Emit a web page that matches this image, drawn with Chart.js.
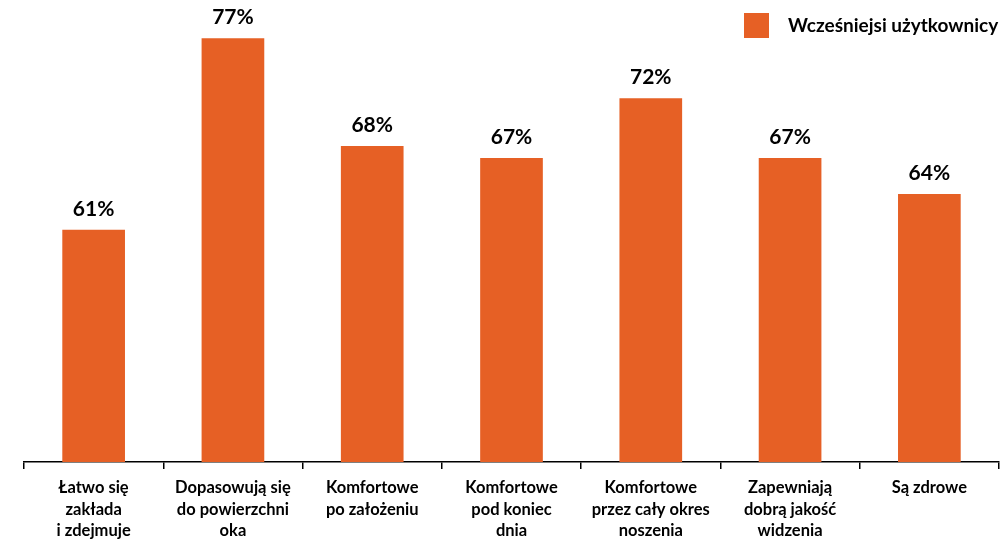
<!DOCTYPE html>
<html>
<head>
<meta charset="utf-8">
<script src="https://cdn.jsdelivr.net/npm/chart.js@4"></script>
<style>
  html, body { margin: 0; padding: 0; background: #fff; }
  #wrap { width: 1003px; height: 540px; }
</style>
</head>
<body>
<div id="wrap"><canvas id="bars"></canvas></div>
<script>
var categories = [
  ['Łatwo się', 'zakłada', 'i zdejmuje'],
  ['Dopasowują się', 'do powierzchni', 'oka'],
  ['Komfortowe', 'po założeniu'],
  ['Komfortowe', 'pod koniec', 'dnia'],
  ['Komfortowe', 'przez cały okres', 'noszenia'],
  ['Zapewniają', 'dobrą jakość', 'widzenia'],
  ['Są zdrowe']
];
var seriesName = 'Wcześniejsi użytkownicy';
var values = [61, 77, 68, 67, 72, 67, 64];

var orange = '#E66025';
var font = 'Lato, "Open Sans", sans-serif';

// value labels above each bar + legend box in the top right corner
var extras = {
  id: 'extras',
  afterDatasetsDraw: function(chart) {
    var ctx = chart.ctx;
    var meta = chart.getDatasetMeta(0);
    ctx.save();
    ctx.fillStyle = '#000';
    ctx.font = 'bold 21px ' + font;
    ctx.textAlign = 'center';
    ctx.textBaseline = 'alphabetic';
    meta.data.forEach(function(bar, i) {
      ctx.fillText(chart.data.datasets[0].data[i] + '%', bar.x, bar.y - 14);
    });

    ctx.fillStyle = orange;
    ctx.fillRect(744, 13, 25, 25);
    ctx.fillStyle = '#000';
    ctx.font = 'bold 19px ' + font;
    ctx.textAlign = 'left';
    ctx.textBaseline = 'middle';
    ctx.fillText(chart.data.datasets[0].label, 788, 26);
    ctx.restore();
  }
};

new Chart(document.getElementById('bars'), {
  type: 'bar',
  data: {
    labels: categories,
    datasets: [{
      label: seriesName,
      data: values,
      backgroundColor: orange,
      borderWidth: 0,
      categoryPercentage: 0.45,
      barPercentage: 1
    }]
  },
  options: {
    responsive: true,
    maintainAspectRatio: false,
    animation: false,
    layout: { padding: { left: 24, right: 4, top: 0, bottom: 0 } },
    plugins: {
      legend: { display: false },
      tooltip: { enabled: false }
    },
    scales: {
      y: {
        display: false,
        min: 41.6,
        max: 80.2
      },
      x: {
        afterFit: function(scale) { scale.height = 78; },
        border: { display: true, color: '#000', width: 1.5 },
        grid: {
          display: true,
          offset: true,
          drawOnChartArea: false,
          drawTicks: true,
          tickLength: 7,
          color: '#000',
          lineWidth: 1.5
        },
        ticks: {
          color: '#000',
          padding: 8,
          maxRotation: 0,
          autoSkip: false,
          font: { family: font, weight: 'bold', size: 16.5, lineHeight: 1.3 }
        }
      }
    }
  },
  plugins: [extras]
});
</script>
</body>
</html>
